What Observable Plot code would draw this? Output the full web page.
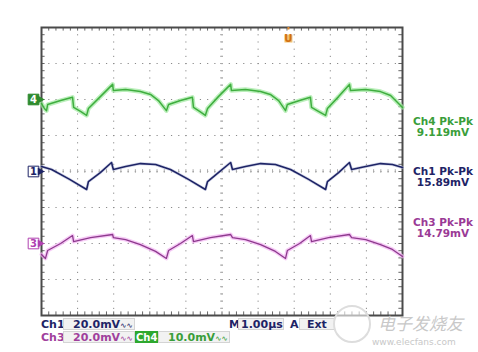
<!DOCTYPE html>
<html>
<head>
<meta charset="utf-8">
<script src="https://cdn.jsdelivr.net/npm/d3@7"></script>
<script src="https://cdn.jsdelivr.net/npm/@observablehq/plot@0.6"></script>
<style>
  body { margin: 0; background: #fff; font-family: "DejaVu Sans", sans-serif; }
  #wrap { position: relative; width: 478px; height: 352px; overflow: hidden; }
  #wrap svg { position: absolute; left: 0; top: 0; }
  .t { position: absolute; font-weight: bold; font-size: 11px; line-height: 12px; white-space: nowrap; }
  .t small { font-size: 7.5px; font-weight: normal; }
  .box { position: absolute; height: 12px; background: #f2f2f2; border: 1px solid #d4d4d4; box-sizing: border-box; }
  .ro { position: absolute; font-weight: bold; font-size: 10.5px; line-height: 11px; text-align: center; width: 70px; }
</style>
</head>
<body>
<div id="wrap"></div>
<script>
// ---- data (time in µs, amplitude in mV) ----
const ch4Time = [0, 0.08, 0.14, 0.17, 0.53, 0.86, 0.89, 1.08, 1.25, 1.30, 1.63, 1.97, 1.99, 2.33, 2.74, 3.02, 3.24, 3.46, 3.52, 3.85, 4.18, 4.21, 4.38, 4.54, 4.60, 4.90, 5.24, 5.26, 5.65, 6.07, 6.34, 6.57, 6.76, 6.81, 7.15, 7.45, 7.48, 7.67, 7.87, 7.92, 8.23, 8.53, 8.56, 8.98, 9.39, 9.67, 10];
const ch4mV   = [-1.1, -2.5, -3.1, -1.4, -0.3, 0.6, -2.2, -3.3, -4.4, -2.5, 0.8, 4.2, 2.5, 2.8, 2.2, 1.4, -0.3, -3.1, -1.4, -0.3, 0.6, -2.2, -3.3, -4.4, -2.5, 0.8, 4.2, 2.5, 2.8, 2.2, 1.4, -0.3, -3.1, -1.4, -0.3, 0.6, -2.2, -3.3, -4.4, -2.5, 0.8, 4.2, 2.5, 2.8, 2.2, 1.1, -2.2];

const ch1Time = [0, 0.28, 0.78, 1.25, 1.30, 1.63, 1.94, 1.99, 2.33, 2.74, 3.16, 3.57, 4.07, 4.54, 4.60, 4.90, 5.24, 5.29, 5.65, 6.07, 6.48, 6.90, 7.40, 7.87, 7.92, 8.23, 8.53, 8.59, 8.98, 9.39, 9.72, 10];
const ch1mV   = [2.8, 1.1, -4.4, -10.0, -5.6, -0.6, 5.0, 1.1, 2.8, 4.4, 3.9, 1.1, -4.4, -10.0, -5.6, -0.6, 5.0, 1.1, 2.8, 4.4, 3.9, 1.1, -4.4, -10.0, -5.6, -0.6, 5.0, 1.1, 2.8, 4.4, 3.9, 2.2];

const ch3Time = [0, 0.11, 0.17, 0.53, 0.86, 0.89, 1.36, 1.97, 1.99, 2.33, 2.74, 3.16, 3.46, 3.52, 3.85, 4.18, 4.21, 4.68, 5.24, 5.29, 5.65, 6.07, 6.48, 6.76, 6.81, 7.15, 7.45, 7.48, 7.95, 8.53, 8.59, 8.98, 9.39, 9.72, 10];
const ch3mV   = [-6.1, -8.3, -3.9, 0, 4.4, 1.1, 3.3, 5.0, 3.3, 2.2, -0.6, -4.4, -8.3, -3.9, 0, 4.4, 1.1, 3.3, 5.0, 3.3, 2.2, -0.6, -4.4, -8.3, -3.9, 0, 4.4, 1.1, 3.3, 5.0, 3.3, 2.2, -0.6, -3.3, -7.2];

const channelNames  = ["4", "1", "3"];
const channelOffset = [2, 0, -2];          // divisions
const channelScale  = [10, 20, 20];        // mV/div
const pkpkLabels    = ["Ch4 Pk-Pk", "Ch1 Pk-Pk", "Ch3 Pk-Pk"];
const pkpkValues    = ["9.119mV", "15.89mV", "14.79mV"];
const triggerTime   = 6.84;                // µs
const timePerDiv    = "1.00µs";
const voltPerDiv    = ["20.0mV", "20.0mV", "10.0mV"];

// ---- build ----
const toRows = (ts, vs, ci) => ts.map((t, i) => ({t, y: channelOffset[ci] + vs[i] / channelScale[ci]}));
const ch4 = toRows(ch4Time, ch4mV, 0);
const ch1 = toRows(ch1Time, ch1mV, 1);
const ch3 = toRows(ch3Time, ch3mV, 2);

const divX = d3.range(1, 10);
const divY = d3.range(-3, 4);
const fineX = d3.range(0, 50.01, 1).map(d => d / 5);
const fineY = d3.range(-20, 20.01, 1).map(d => d / 5);
const markers = channelNames.map((n, i) => ({n, y: channelOffset[i], i}));
const markerFill = ["#2e8b2e", "#fff", "#fff"];
const markerStroke = ["#2e8b2e", "#1e2466", "#b040b0"];
const markerText = ["#fff", "#1e2466", "#b040b0"];

const chart = Plot.plot({
  width: 478, height: 352,
  marginLeft: 41, marginRight: 76, marginTop: 27, marginBottom: 37,
  x: {domain: [0, 10], axis: null},
  y: {domain: [-4, 4], axis: null},
  marks: [
    // dotted graticule
    Plot.ruleX(divX, {x: d => d, stroke: "#8a8a8a", strokeWidth: 1, strokeDasharray: "1.2,6"}),
    Plot.ruleY(divY, {y: d => d, stroke: "#8a8a8a", strokeWidth: 1, strokeDasharray: "1.2,6.02"}),
    // fine ticks on the border and centre lines
    Plot.ruleX(fineX, {x: d => d, y1: -4, y2: -3.9, stroke: "#666"}),
    Plot.ruleX(fineX, {x: d => d, y1: 3.9, y2: 4, stroke: "#666"}),
    Plot.ruleY(fineY, {y: d => d, x1: 0, x2: 0.1, stroke: "#666"}),
    Plot.ruleY(fineY, {y: d => d, x1: 9.9, x2: 10, stroke: "#666"}),
    Plot.ruleX(fineX, {x: d => d, y1: -0.05, y2: 0.05, stroke: "#aaa"}),
    Plot.ruleY(fineY, {y: d => d, x1: 4.96, x2: 5.04, stroke: "#aaa"}),
    Plot.frame({stroke: "#4a4a4a", strokeWidth: 2}),
    // traces with phosphor glow
    Plot.line(ch4, {x: "t", y: "y", stroke: "#9ee89e", strokeWidth: 4.5, strokeOpacity: 0.7}),
    Plot.line(ch4, {x: "t", y: "y", stroke: "#3fae3f", strokeWidth: 1.5}),
    Plot.line(ch1, {x: "t", y: "y", stroke: "#b8bcd8", strokeWidth: 3, strokeOpacity: 0.6}),
    Plot.line(ch1, {x: "t", y: "y", stroke: "#1e2466", strokeWidth: 1.6}),
    Plot.line(ch3, {x: "t", y: "y", stroke: "#f2b4f2", strokeWidth: 4, strokeOpacity: 0.7}),
    Plot.line(ch3, {x: "t", y: "y", stroke: "#8e3a8e", strokeWidth: 1.3}),
    // channel markers
    Plot.dot(markers, {x: 0, y: "y", dx: -8, symbol: "square", r: 6, fill: d => markerFill[d.i], stroke: d => markerStroke[d.i], strokeWidth: 1}),
    Plot.dot(markers, {x: 0, y: "y", dx: -1.5, symbol: "triangle", rotate: 90, r: 3, fill: d => markerStroke[d.i]}),
    Plot.text(markers, {x: 0, y: "y", dx: -8, text: "n", fill: d => markerText[d.i], fontWeight: "bold", fontSize: 10, fontFamily: "DejaVu Sans"}),
    // trigger position marker
    Plot.ruleX([triggerTime], {x: d => d, y1: 4, y2: 3.93, stroke: "#e08a30", strokeWidth: 2}),
    Plot.dot([triggerTime], {x: d => d, y: 4, dy: 11, symbol: "square", r: 4.5, fill: "#f0c070"}),
    Plot.text([triggerTime], {x: d => d, y: 4, dy: 11, text: () => "U", fill: "#d07010", fontWeight: "bold", fontSize: 10, fontFamily: "DejaVu Sans"})
  ]
});
const wrap = document.getElementById("wrap");
wrap.appendChild(chart);

function add(cls, html, left, top, style = {}) {
  const el = document.createElement("div");
  el.className = cls;
  if (html != null) el.innerHTML = html;
  el.style.left = left + "px";
  el.style.top = top + "px";
  Object.assign(el.style, style);
  wrap.appendChild(el);
  return el;
}
// Pk-Pk readouts
const roColor = ["#3a9e3a", "#1e2466", "#9a3a96"];
const roTop = [116, 166, 217];
pkpkLabels.forEach((l, i) => {
  add("ro", l, 408, roTop[i], {color: roColor[i]});
  add("ro", pkpkValues[i], 408, roTop[i] + 11, {color: roColor[i]});
});
// bottom status bar
const navy = "#1e2466", mag = "#a0409c", grn = "#3a9e3a";
const bw = "<small>∿∿</small>";
add("t", "Ch1", 41, 319, {color: navy});
add("box", null, 63, 318, {width: "72px"});
add("t", voltPerDiv[0] + bw, 73, 319, {color: navy});
add("t", "M", 229, 319, {color: navy});
add("box", null, 238, 318, {width: "46px"});
add("t", timePerDiv, 241, 319, {color: navy});
add("t", "A", 290, 319, {color: navy});
add("box", null, 299, 318, {width: "36px"});
add("t", "Ext", 307, 319, {color: navy});
add("t", "Ch3", 41, 332, {color: mag});
add("box", null, 63, 331, {width: "72px"});
add("t", voltPerDiv[1] + bw, 73, 332, {color: mag});
add("box", null, 135, 331, {width: "23px", background: "#2ea82e", border: "1px solid #2ea82e"});
add("t", "Ch4", 136, 332, {color: "#fff", fontSize: "10px"});
add("box", null, 158, 331, {width: "72px"});
add("t", voltPerDiv[2] + bw, 168, 332, {color: grn});
// watermark
add("t", "电子发烧友", 378, 313, {color: "#c8c8c8", fontSize: "17px", lineHeight: "20px", fontWeight: "normal", fontFamily: "Noto Sans CJK SC", fontStyle: "italic"});
add("t", "www.elecfans.com", 372, 336, {color: "#c8c8c8", fontSize: "9px", fontWeight: "normal"});
add("t", null, 333, 305, {width: "34px", height: "34px", borderRadius: "50%", border: "2px solid #ddd", background: "rgba(255,255,255,0.6)"});
</script>
</body>
</html>
